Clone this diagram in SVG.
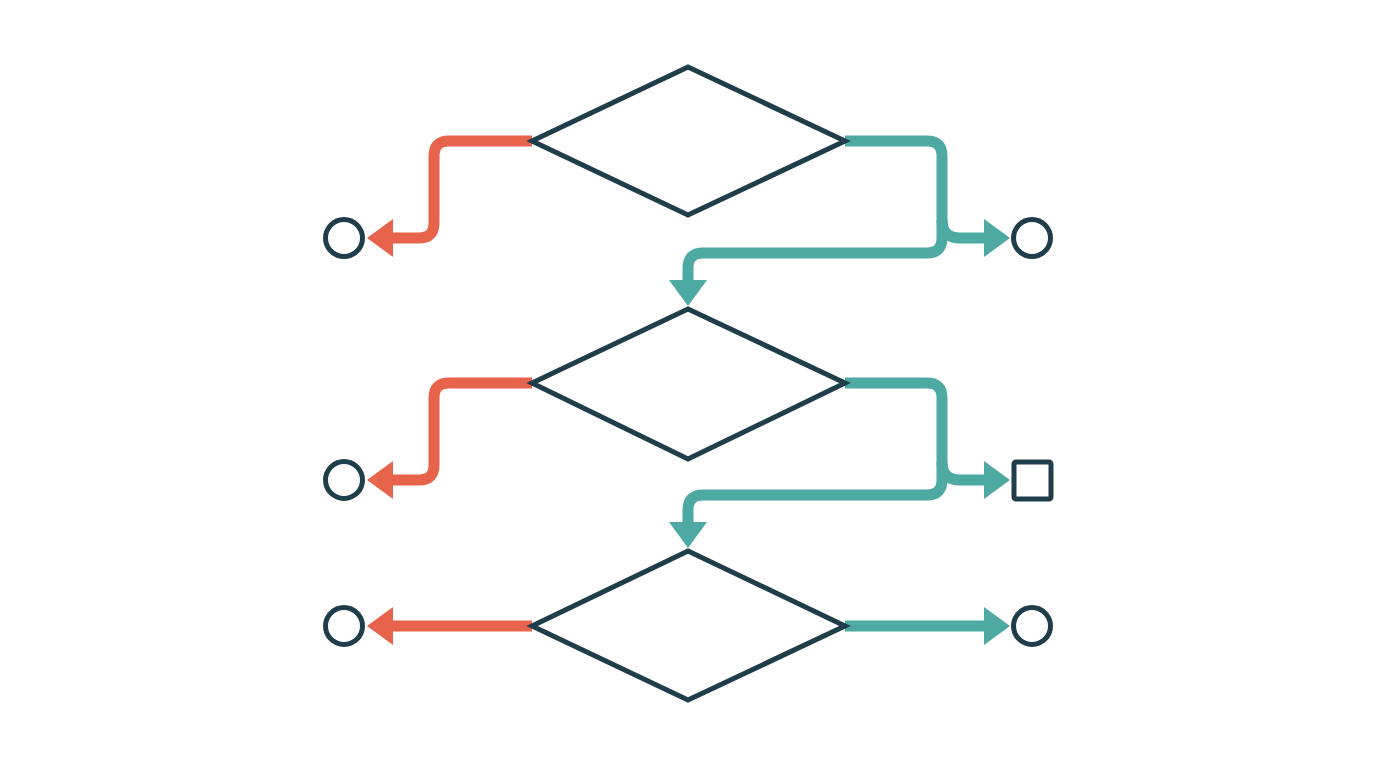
<svg xmlns="http://www.w3.org/2000/svg" width="1376" height="768" viewBox="0 0 1376 768">
<style>
.dia{fill:#ffffff;stroke:#1f3d4a;stroke-width:5;stroke-linejoin:miter}
.term{fill:#ffffff;stroke:#1f3d4a;stroke-width:5}
.no{fill:none;stroke:#e8634c;stroke-width:11;stroke-linejoin:round}
.yes{fill:none;stroke:#4fa9a3;stroke-width:11;stroke-linejoin:round}
</style>
<defs>
<marker id="ar" markerUnits="userSpaceOnUse" markerWidth="26" markerHeight="38" viewBox="0 0 26 38" refX="1" refY="19" orient="auto"><path d="M0,0 L26,19 L0,38 z" fill="#e8634c"/></marker>
<marker id="at" markerUnits="userSpaceOnUse" markerWidth="26" markerHeight="38" viewBox="0 0 26 38" refX="1" refY="19" orient="auto"><path d="M0,0 L26,19 L0,38 z" fill="#4fa9a3"/></marker>
</defs>
<rect width="1376" height="768" fill="#ffffff"/>
<g id="connectors">
<path class="no" d="M532,141 H449 Q434,141 434,156 V223 Q434,238 419,238 H392" marker-end="url(#ar)"/>
<path class="yes" d="M845,141 H927 Q942,141 942,156 V238 Q942,253 927,253 H703 Q688,253 688,268 V281" marker-end="url(#at)"/>
<path class="yes" d="M942,220 Q942,238 960,238 H985" marker-end="url(#at)"/>
<path class="no" d="M532,383 H449 Q434,383 434,398 V465 Q434,480 419,480 H392" marker-end="url(#ar)"/>
<path class="yes" d="M845,383 H927 Q942,383 942,398 V480 Q942,495 927,495 H703 Q688,495 688,510 V523" marker-end="url(#at)"/>
<path class="yes" d="M942,462 Q942,480 960,480 H985" marker-end="url(#at)"/>
<path class="no" d="M532,626 H392" marker-end="url(#ar)"/>
<path class="yes" d="M845,626 H985" marker-end="url(#at)"/>
</g>
<g id="decision1"><polygon class="dia" points="688,67 845,141 688,215 532,141"/></g>
<g id="decision2"><polygon class="dia" points="688,309 845,383 688,459 532,383"/></g>
<g id="decision3"><polygon class="dia" points="688,551 845,626 688,700 532,626"/></g>
<g id="end-no-1"><circle class="term" cx="344" cy="238" r="18.5"/></g>
<g id="end-yes-1"><circle class="term" cx="1032" cy="238" r="18.5"/></g>
<g id="end-no-2"><circle class="term" cx="344" cy="480" r="18.5"/></g>
<g id="end-yes-2"><rect class="term" x="1014" y="462" width="37" height="37" rx="2"/></g>
<g id="end-no-3"><circle class="term" cx="344" cy="626" r="18.5"/></g>
<g id="end-yes-3"><circle class="term" cx="1032" cy="626" r="18.5"/></g>
</svg>
